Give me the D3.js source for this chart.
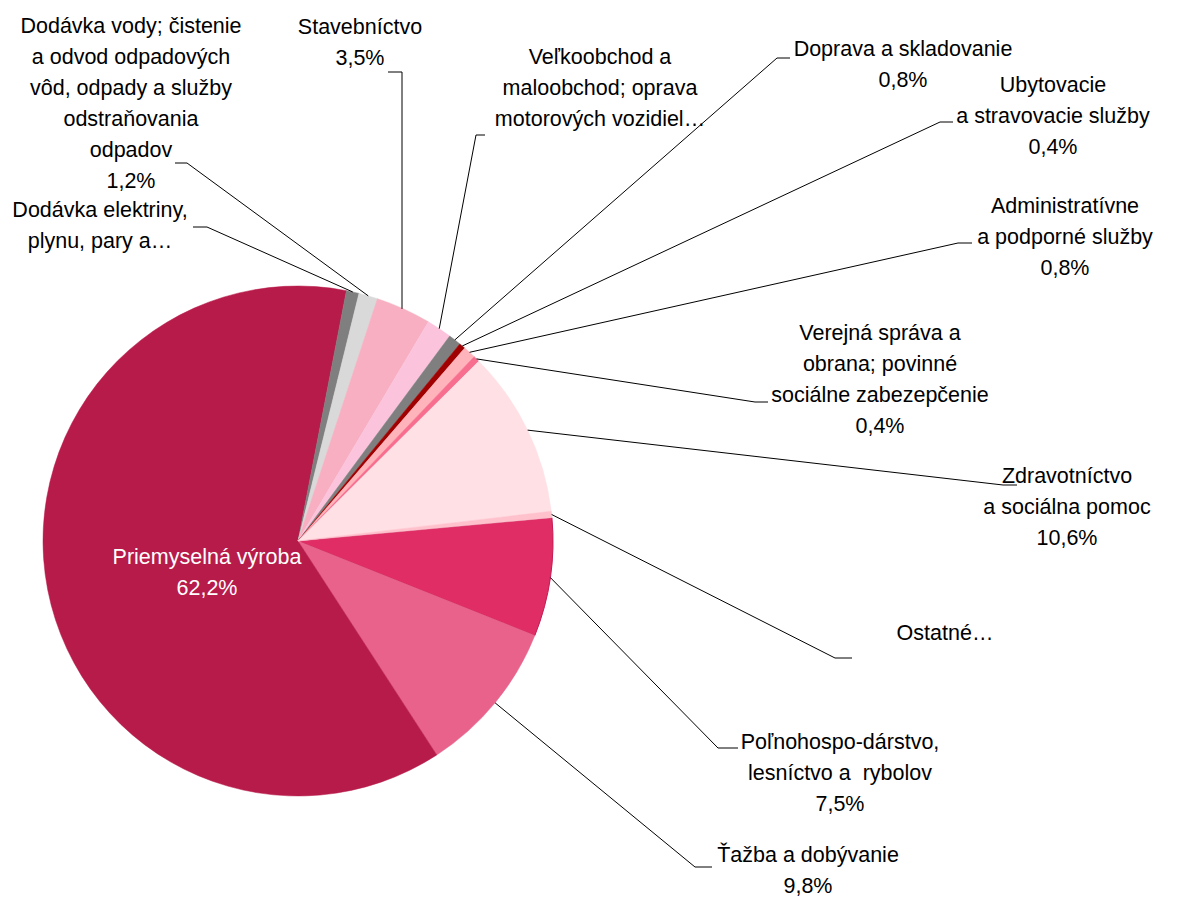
<!DOCTYPE html>
<html><head><meta charset="utf-8">
<script src="https://cdn.jsdelivr.net/npm/d3@7"></script>
<style>
html,body{margin:0;padding:0;background:#fff;}
svg{display:block;}
text{font-family:"Liberation Sans",Arial,sans-serif;font-size:21.5px;fill:#000;white-space:pre;}
</style></head>
<body>
<script>
// ---- data ----
const categories = [
  "Poľnohospodárstvo, lesníctvo a rybolov",
  "Ťažba a dobývanie",
  "Priemyselná výroba",
  "Dodávka elektriny, plynu, pary a studeného vzduchu",
  "Dodávka vody; čistenie a odvod odpadových vôd, odpady a služby odstraňovania odpadov",
  "Stavebníctvo",
  "Veľkoobchod a maloobchod; oprava motorových vozidiel a motocyklov",
  "Doprava a skladovanie",
  "Ubytovacie a stravovacie služby",
  "Administratívne a podporné služby",
  "Verejná správa a obrana; povinné sociálne zabezpečenie",
  "Zdravotníctvo a sociálna pomoc",
  "Ostatné činnosti"
];
const values = [7.5, 9.8, 62.2, 0.8, 1.2, 3.5, 1.6, 0.8, 0.4, 0.8, 0.4, 10.6, 0.4];
const labelLines = [
  ["Poľnohospo-dárstvo,", "lesníctvo a  rybolov", "7,5%"],
  ["Ťažba a dobývanie", "9,8%"],
  ["Priemyselná výroba", "62,2%"],
  ["Dodávka elektriny,", "plynu, pary a…"],
  ["Dodávka vody; čistenie", "a odvod odpadových", "vôd, odpady a služby", "odstraňovania", "odpadov", "1,2%"],
  ["Stavebníctvo", "3,5%"],
  ["Veľkoobchod a", "maloobchod; oprava", "motorových vozidiel…"],
  ["Doprava a skladovanie", "0,8%"],
  ["Ubytovacie", "a stravovacie služby", "0,4%"],
  ["Administratívne", "a podporné služby", "0,8%"],
  ["Verejná správa a", "obrana; povinné", "sociálne zabezepčenie", "0,4%"],
  ["Zdravotníctvo", "a sociálna pomoc", "10,6%"],
  ["Ostatné…"]
];
const colors = ["#E02D66","#E8628B","#B71B4A","#7F7F7F","#D9D9D9","#F7AFC1","#FBC4DC",
                "#7F7F7F","#A00000","#FFB3BA","#F86E8E","#FFE0E5","#FFC1CC"];

// ---- layout ----
const W = 1179, H = 898;
const cx = 298, cy = 541, R = 255;
const startDeg = 84.75;
const labelPos = [
  {x:840, y:742, stub:[718,738,748]},
  {x:808, y:855, stub:[695,712,867]},
  {x:207, y:557, inside:true},
  {x:100, y:210, stub:[207,193,227]},
  {x:131, y:26,  stub:[187,175,163]},
  {x:360, y:27,  stub:[402,388,72], vertical:true},
  {x:600, y:57,  stub:[476,485,135]},
  {x:903, y:49,  stub:[777,790,58]},
  {x:1053,y:85,  stub:[940,953,122]},
  {x:1065,y:206, stub:[958,972,243]},
  {x:880, y:333, stub:[755,768,402]},
  {x:1067,y:476, stub:[1003,1017,485]},
  {x:945, y:633, stub:[835,852,658]}
];
const lineH = 31;

const svg = d3.select("body").append("svg").attr("width", W).attr("height", H);

const data = categories.map((c,i)=>({name:c, value:values[i], i}));
const pie = d3.pie().value(d=>d.value).sort(null)
  .startAngle(startDeg*Math.PI/180).endAngle(startDeg*Math.PI/180 + 2*Math.PI);
const arcs = pie(data);
const arc = d3.arc().innerRadius(0).outerRadius(R);

const g = svg.append("g").attr("transform", `translate(${cx},${cy})`);
g.selectAll("path").data(arcs).enter().append("path")
  .attr("d", arc)
  .attr("fill", d=>colors[d.data.i])
  .attr("stroke", d=>d.data.i===0 ? "#C41A52" : colors[d.data.i])
  .attr("stroke-width", d=>d.data.i===0 ? 1 : 0.5);

// leader lines
const leaders = svg.append("g");
arcs.forEach(a=>{
  const p = labelPos[a.data.i];
  if (p.inside) return;
  const mid = (a.startAngle + a.endAngle)/2;
  const px = cx + R*Math.sin(mid), py = cy - R*Math.cos(mid);
  const pts = p.vertical
    ? [[p.stub[0],py],[p.stub[0],p.stub[2]],[p.stub[1],p.stub[2]]]
    : [[px,py],[p.stub[0],p.stub[2]],[p.stub[1],p.stub[2]]];
  leaders.append("path").attr("d", d3.line()(pts))
    .attr("fill","none").attr("stroke","#000").attr("stroke-width",1);
});

// labels
const lg = svg.append("g");
arcs.forEach(a=>{
  const i = a.data.i, p = labelPos[i];
  const t = lg.append("text").attr("text-anchor","middle")
    .style("fill", p.inside ? "#fff" : "#000");
  labelLines[i].forEach((ln,k)=>{
    t.append("tspan").attr("x", p.x).attr("y", p.y + k*lineH)
      .attr("dominant-baseline","central").text(ln);
  });
});
</script>
</body></html>
